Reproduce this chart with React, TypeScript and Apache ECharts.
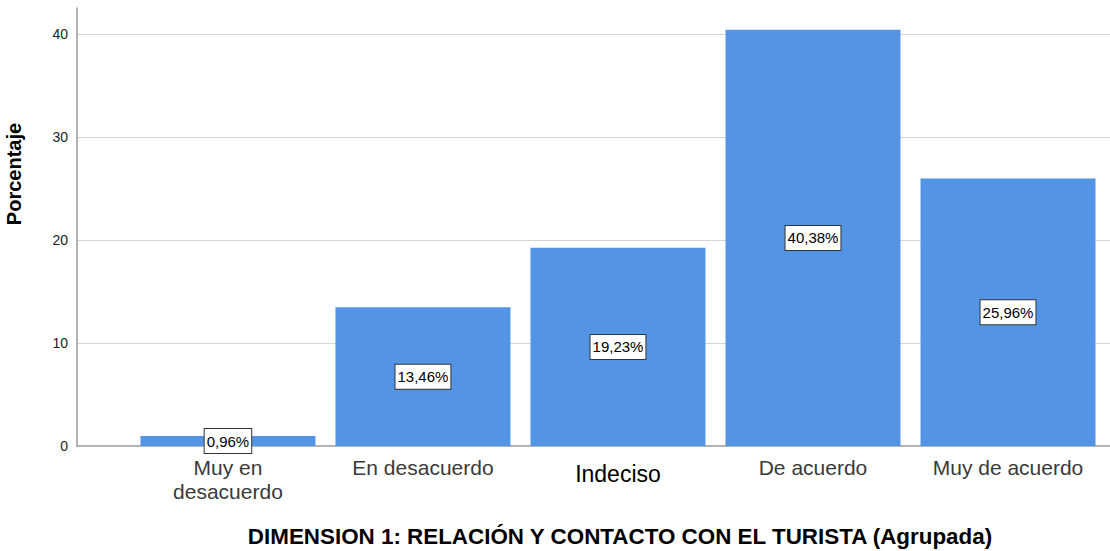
import React, { useEffect, useRef } from "react";
import * as echarts from "echarts";

const categories = ["Muy en\ndesacuerdo", "En desacuerdo", "Indeciso", "De acuerdo", "Muy de acuerdo"];
const percentages = [0.96, 13.46, 19.23, 40.38, 25.96];
const yTicks = [0, 10, 20, 30, 40];
const yAxisTitle = "Porcentaje";
const xAxisTitle = "DIMENSION 1: RELACIÓN Y CONTACTO CON EL TURISTA (Agrupada)";

const FONT = "'Liberation Sans', Arial, sans-serif";

export default function App() {
  const ref = useRef<HTMLDivElement>(null);
  useEffect(() => {
    document.body.style.margin = "0";
    if (!ref.current) return;
    const chart = echarts.init(ref.current, null, { renderer: "svg" });
    const option: any = {
      animation: false,
      backgroundColor: "#ffffff",
      grid: { left: 77, right: 0, top: 8, bottom: 105, outerBoundsMode: "none", containLabel: false },
      xAxis: {
        type: "value",
        min: -0.774,
        max: 4.523,
        minInterval: 1,
        maxInterval: 1,
        position: "bottom",
        axisLine: { show: true, onZero: false, lineStyle: { color: "#9a9a9a", width: 1.5 } },
        axisTick: { show: false },
        splitLine: { show: false },
        axisLabel: {
          margin: 9,
          fontFamily: FONT,
          fontSize: 21,
          lineHeight: 24,
          color: "#3a3a3a",
          formatter: (v: number) => {
            const i = Math.round(v);
            if (Math.abs(v - i) > 1e-6 || i < 0 || i >= categories.length) return "";
            if (categories[i] === "Indeciso") return "{b|" + categories[i] + "}";
            return categories[i];
          },
          rich: {
            b: { fontFamily: FONT, fontSize: 23, lineHeight: 24, color: "#000000", padding: [14, 0, 0, 0] },
          },
        },
      },
      yAxis: {
        type: "value",
        min: 0,
        max: 42.5,
        interval: 10,
        axisLine: { show: true, onZero: false, lineStyle: { color: "#9a9a9a", width: 1.5 } },
        axisTick: { show: false },
        splitLine: { show: true, showMaxLine: false, showMinLine: false, lineStyle: { color: "#d4d4d4", width: 1.2 } },
        axisLabel: {
          margin: 9,
          fontFamily: FONT,
          fontSize: 14,
          color: "#222222",
          formatter: (v: number) => (yTicks.indexOf(v) >= 0 ? String(v) : ""),
        },
      },
      series: [
        {
          type: "bar",
          barWidth: 175,
          data: percentages.map((p, i) => [i, p]),
          itemStyle: { color: "#5494e5" },
          label: {
            show: true,
            position: "inside",
            fontFamily: FONT,
            fontSize: 15,
            color: "#000000",
            backgroundColor: "#ffffff",
            borderColor: "#333333",
            borderWidth: 1,
            padding: [5, 2, 4, 2],
            formatter: (p: any) => p.value[1].toFixed(2).replace(".", ",") + "%",
          },
        },
      ],
      graphic: [
        {
          type: "text",
          x: 14,
          y: 174,
          rotation: Math.PI / 2,
          style: {
            text: yAxisTitle,
            font: "bold 20px " + FONT,
            fill: "#000000",
            align: "center",
            verticalAlign: "middle",
          },
        },
        {
          type: "text",
          x: 620,
          y: 536,
          style: {
            text: xAxisTitle,
            font: "bold 22.4px " + FONT,
            fill: "#000000",
            align: "center",
            verticalAlign: "middle",
          },
        },
      ],
    };
    chart.setOption(option);
    return () => chart.dispose();
  }, []);
  return <div ref={ref} style={{ width: 1110, height: 551 }} />;
}
